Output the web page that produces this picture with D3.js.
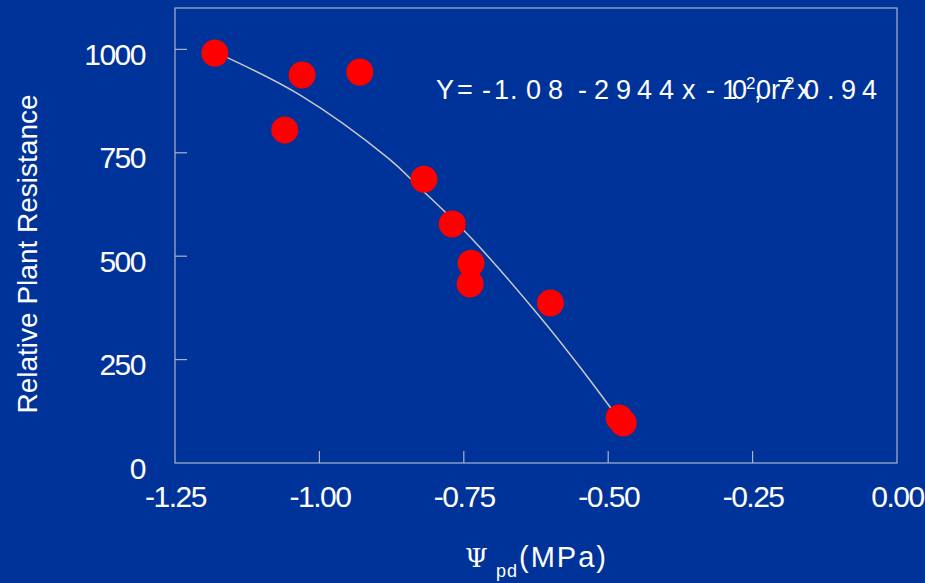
<!DOCTYPE html>
<html><head><meta charset="utf-8">
<script src="https://cdn.jsdelivr.net/npm/d3@7"></script>
<style>
html,body{margin:0;padding:0;background:#003399;}
svg{display:block;}
text{font-family:"Liberation Sans",Arial,sans-serif;fill:#fff;}
</style></head>
<body>
<script>
// Data
const psiValues = [-1.181, -1.060, -1.030, -0.930, -0.819, -0.770, -0.7375, -0.739, -0.600, -0.481, -0.474];
const resistanceValues = [991, 805, 938, 945, 686, 578, 483, 433, 387, 109, 97];
// Fitted curve as drawn in the reference
const fitX = [-1.181, -1.034, -0.881, -0.826, -0.734, -0.618, -0.549, -0.474];
const fitY = [994, 890, 737, 665, 539, 353, 232, 92];
const xTicks = [-1.25, -1.00, -0.75, -0.50, -0.25, 0.00];
const yTicks = [0, 250, 500, 750, 1000];
const xTickLabels = ["-1.25", "-1.00", "-0.75", "-0.50", "-0.25", "0.00"];
const yTickLabels = ["0", "250", "500", "750", "1000"];
// Equation text, with the overlapping glyph layout of the reference
const eqChars = ["Y","=","-","1",".","0","8","-","2","9","4","4","x","-","1","0","2",",","0","r","7","2","x","0",".","9","4"];
const eqLeft  = [436,457,482,494,510,526,548,578,594,616,637,659,682,706,722,732,746,754,756,771,777,785,797,804,827,841,862];
const eqSup   = [0,0,0,0,0,0,0,0,0,0,0,0,0,0,0,0,1,0,0,0,0,1,0,0,0,0,0];

const W = 925, H = 583;
const L = 175, R = 897, T = 8, B = 463;
const svg = d3.select("body").append("svg").attr("width", W).attr("height", H);
svg.append("rect").attr("width", W).attr("height", H).attr("fill", "#003399");

const x = d3.scaleLinear().domain([-1.25, 0]).range([L, R]);
const y = d3.scaleLinear().domain([0, 1100]).range([B, T]);
const frameColor = "#a9b3cc";

// frame
svg.append("rect").attr("x", L).attr("y", T).attr("width", R - L).attr("height", B - T)
  .attr("fill", "none").attr("stroke", frameColor).attr("stroke-width", 1.2);

// y axis
const yAxis = svg.append("g").attr("transform", `translate(${L},0)`)
  .call(d3.axisLeft(y).tickValues(yTicks).tickSize(0).tickFormat((d, i) => yTickLabels[i]));
yAxis.select(".domain").remove();
yAxis.selectAll("text").attr("font-size", 30).attr("letter-spacing", -1.5).attr("fill", "#fff")
  .attr("dy", "0.5em").attr("x", -30);
svg.append("g").selectAll("line").data(yTicks.filter(d => d > 0)).join("line")
  .attr("x1", L).attr("x2", L + 12).attr("y1", d => y(d)).attr("y2", d => y(d))
  .attr("stroke", frameColor).attr("stroke-width", 1.2);

// x axis
const xAxis = svg.append("g").attr("transform", `translate(0,${B})`)
  .call(d3.axisBottom(x).tickValues(xTicks).tickSize(0).tickFormat((d, i) => xTickLabels[i]));
xAxis.select(".domain").remove();
xAxis.selectAll("text").attr("font-size", 30).attr("letter-spacing", -1.5).attr("fill", "#fff")
  .attr("dy", "0.71em").attr("y", 23);
svg.append("g").selectAll("line").data(xTicks.filter(d => d > -1.25 && d < 0)).join("line")
  .attr("x1", d => x(d)).attr("x2", d => x(d)).attr("y1", B).attr("y2", B - 12)
  .attr("stroke", frameColor).attr("stroke-width", 1.2);

// curve
svg.append("path").datum(fitX.map((d, i) => [d, fitY[i]]))
  .attr("d", d3.line().x(d => x(d[0])).y(d => y(d[1])).curve(d3.curveCatmullRom))
  .attr("fill", "none").attr("stroke", "#c8c8c8").attr("stroke-width", 1.5);

// points
svg.append("g").selectAll("circle").data(psiValues.map((d, i) => [d, resistanceValues[i]])).join("circle")
  .attr("cx", d => x(d[0])).attr("cy", d => y(d[1])).attr("r", 13.5).attr("fill", "#ff0000");

// axis titles
svg.append("text").attr("transform", "translate(37,254) rotate(-90)")
  .attr("text-anchor", "middle").attr("font-size", 28)
  .text("Relative Plant Resistance");

const xt = svg.append("text").attr("y", 567).attr("font-size", 29);
xt.append("tspan").attr("x", 465).attr("font-size", 26).attr("font-family", "DejaVu Serif").text("Ψ");
xt.append("tspan").attr("x", 496).attr("y", 577).attr("font-size", 18).attr("letter-spacing", 1).text("pd");
xt.append("tspan").attr("x", 519).attr("y", 567).attr("letter-spacing", 2).text("(MPa)");

// equation (single text, glyphs placed as in the reference)
const eq = svg.append("text").attr("y", 99).attr("font-size", 27);
eq.selectAll("tspan").data(eqChars).join("tspan")
  .attr("x", (d, i) => eqLeft[i])
  .attr("y", (d, i) => eqSup[i] ? 89 : 99)
  .attr("font-size", (d, i) => eqSup[i] ? 17 : 27)
  .text(d => d);
</script>
</body></html>
